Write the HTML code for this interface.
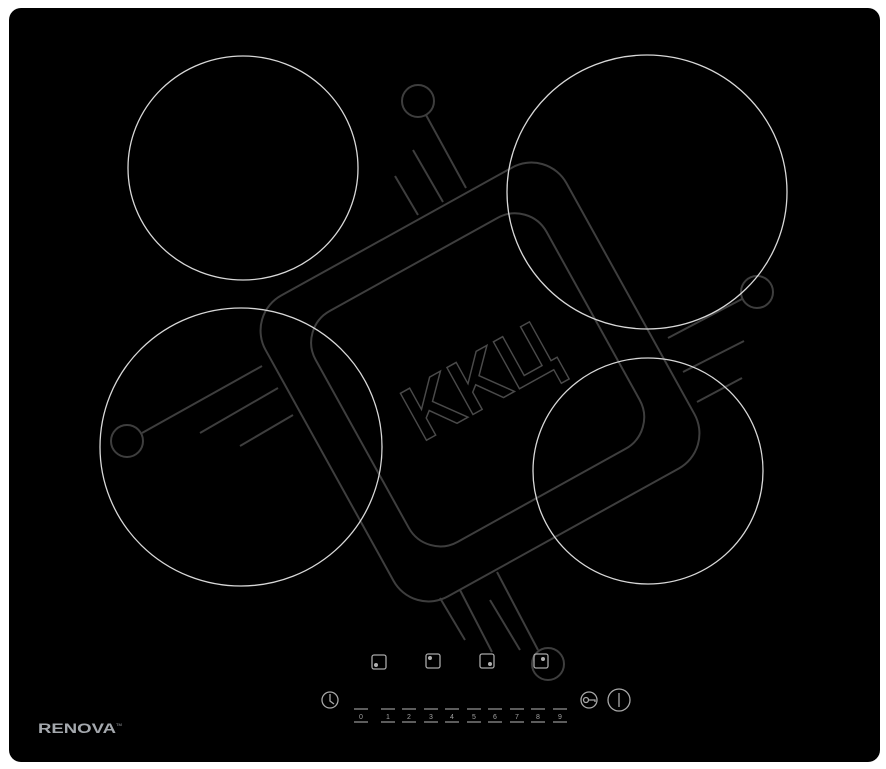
<!DOCTYPE html>
<html><head><meta charset="utf-8"><style>
html,body{margin:0;padding:0;background:#fff;width:886px;height:769px;overflow:hidden}
svg{display:block}
</style></head><body>
<svg width="886" height="769" viewBox="0 0 886 769" xmlns="http://www.w3.org/2000/svg">
<rect x="9" y="8" width="871" height="754" rx="12" fill="#000"/>
<!-- watermark -->
<g stroke="#3e3e3e" stroke-width="2" fill="none">
 <g transform="rotate(-29 480 382)">
  <rect x="308" y="210" width="344" height="344" rx="40"/>
  <rect x="347" y="247" width="264" height="264" rx="36"/>
  <text x="480" y="407" text-anchor="middle" font-family="Liberation Sans, sans-serif" font-weight="bold" font-size="78" stroke="#4a4a4a" stroke-width="1.5" fill="none" textLength="160" lengthAdjust="spacingAndGlyphs">KKЦ</text>
 </g>
 <circle cx="418" cy="101" r="16"/>
 <line x1="426" y1="115" x2="466" y2="188"/>
 <line x1="413" y1="150" x2="443" y2="202"/>
 <line x1="395" y1="176" x2="418" y2="215"/>
 <circle cx="757" cy="292" r="16"/>
 <line x1="742" y1="299" x2="668" y2="338"/>
 <line x1="744" y1="341" x2="683" y2="372"/>
 <line x1="742" y1="378" x2="697" y2="402"/>
 <circle cx="127" cy="441" r="16"/>
 <line x1="142" y1="433" x2="262" y2="366"/>
 <line x1="200" y1="433" x2="278" y2="388"/>
 <line x1="240" y1="446" x2="293" y2="415"/>
 <circle cx="548" cy="664" r="16"/>
 <line x1="538" y1="650" x2="497" y2="572"/>
 <line x1="490" y1="600" x2="520" y2="650"/>
 <line x1="460" y1="590" x2="492" y2="652"/>
 <line x1="440" y1="598" x2="465" y2="640"/>
</g>
<!-- zones -->
<g stroke="#d8d8d8" stroke-width="1.3" fill="none">
 <ellipse cx="243" cy="168" rx="115" ry="112"/>
 <ellipse cx="647" cy="192" rx="140" ry="137"/>
 <ellipse cx="241" cy="447" rx="141" ry="139"/>
 <ellipse cx="648" cy="471" rx="115" ry="113"/>
</g>
<!-- zone selectors -->
<g stroke="#a8a8a8" stroke-width="1.3" fill="none">
 <rect x="372" y="655" width="14" height="14" rx="2"/>
 <rect x="426" y="654" width="14" height="14" rx="2"/>
 <rect x="480" y="654" width="14" height="14" rx="2"/>
 <rect x="534" y="654" width="14" height="14" rx="2"/>
</g>
<g fill="#b0b0b0">
 <circle cx="376" cy="665" r="2"/>
 <circle cx="430" cy="658" r="2"/>
 <circle cx="490" cy="664" r="2"/>
 <circle cx="543" cy="659" r="2"/>
</g>
<g stroke="#a8a8a8" stroke-width="1.3" fill="none">
 <circle cx="330" cy="700" r="8"/>
 <polyline points="330,694 330,701 334,704"/>
 <circle cx="589" cy="700" r="8"/>
 <circle cx="586" cy="700" r="2.5"/>
 <polyline points="588.5,700 595,700 595,702"/>
 <circle cx="619" cy="700" r="11"/>
 <line x1="619" y1="693" x2="619" y2="707"/>
</g>
<!-- digits -->
<g stroke="#9a9a9a" stroke-width="1.2">
 <line x1="354" y1="709" x2="368" y2="709"/><line x1="354" y1="722" x2="368" y2="722"/>
 <line x1="381" y1="709" x2="395" y2="709"/><line x1="381" y1="722" x2="395" y2="722"/>
 <line x1="402" y1="709" x2="416" y2="709"/><line x1="402" y1="722" x2="416" y2="722"/>
 <line x1="424" y1="709" x2="438" y2="709"/><line x1="424" y1="722" x2="438" y2="722"/>
 <line x1="445" y1="709" x2="459" y2="709"/><line x1="445" y1="722" x2="459" y2="722"/>
 <line x1="467" y1="709" x2="481" y2="709"/><line x1="467" y1="722" x2="481" y2="722"/>
 <line x1="488" y1="709" x2="502" y2="709"/><line x1="488" y1="722" x2="502" y2="722"/>
 <line x1="510" y1="709" x2="524" y2="709"/><line x1="510" y1="722" x2="524" y2="722"/>
 <line x1="531" y1="709" x2="545" y2="709"/><line x1="531" y1="722" x2="545" y2="722"/>
 <line x1="553" y1="709" x2="567" y2="709"/><line x1="553" y1="722" x2="567" y2="722"/>
</g>
<g fill="#a0a0a0" font-family="Liberation Sans, sans-serif" font-size="7" text-anchor="middle">
 <text x="361" y="719">0</text><text x="388" y="719">1</text><text x="409" y="719">2</text>
 <text x="431" y="719">3</text><text x="452" y="719">4</text><text x="474" y="719">5</text>
 <text x="495" y="719">6</text><text x="517" y="719">7</text><text x="538" y="719">8</text>
 <text x="560" y="719">9</text>
</g>
<text x="38" y="733" font-family="Liberation Sans, sans-serif" font-weight="bold" font-size="13.5" fill="#a4a8ad" textLength="78" lengthAdjust="spacingAndGlyphs">RENOVA</text>
<text x="116" y="726" font-family="Liberation Sans, sans-serif" font-size="4" fill="#a4a8ad">TM</text>
</svg>
</body></html>
